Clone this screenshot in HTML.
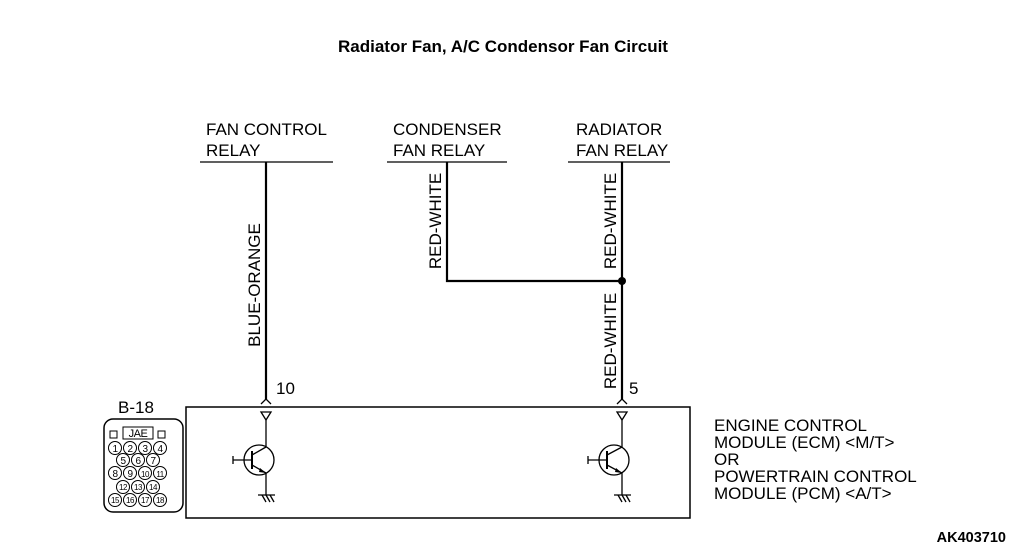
<!DOCTYPE html>
<html><head><style>body{margin:0;background:#fff}svg{display:block}text{font-family:"Liberation Sans",Arial,sans-serif;fill:#000}</style></head><body>
<svg width="1010" height="551" viewBox="0 0 1010 551" xmlns="http://www.w3.org/2000/svg">
<text x="503" y="52" font-size="17" font-weight="bold" text-anchor="middle">Radiator Fan, A/C Condensor Fan Circuit</text>
<g font-size="17">
<text x="206" y="135">FAN CONTROL</text><text x="206" y="156">RELAY</text>
<text x="393" y="135">CONDENSER</text><text x="393" y="156">FAN RELAY</text>
<text x="576" y="135">RADIATOR</text><text x="576" y="156">FAN RELAY</text>
</g>
<g stroke="#000" stroke-width="1.3" fill="none">
<line x1="200" y1="162" x2="333" y2="162"/><line x1="387" y1="162" x2="507" y2="162"/><line x1="568" y1="162" x2="670" y2="162"/>
</g>
<g stroke="#000" stroke-width="2.2" fill="none">
<line x1="266" y1="162" x2="266" y2="400"/>
<polyline points="447,162 447,281 622,281"/>
<line x1="622" y1="162" x2="622" y2="400"/>
</g>
<circle cx="622" cy="281" r="4" fill="#000"/>
<g font-size="17">
<text transform="translate(260,285) rotate(-90)" text-anchor="middle">BLUE-ORANGE</text>
<text transform="translate(441,221) rotate(-90)" text-anchor="middle">RED-WHITE</text>
<text transform="translate(616,221) rotate(-90)" text-anchor="middle">RED-WHITE</text>
<text transform="translate(616,341) rotate(-90)" text-anchor="middle">RED-WHITE</text>
<text x="276" y="394">10</text><text x="629" y="394">5</text>
</g>
<rect x="186" y="407" width="504" height="111" fill="none" stroke="#000" stroke-width="1.5"/>
<g stroke="#000" stroke-width="1.3" fill="none">
<polyline points="261,404 266,399 271,404"/><polyline points="617,404 622,399 627,404"/>
<polygon points="261,412 271,412 266,420"/><polygon points="617,412 627,412 622,420"/>
<line x1="266" y1="420" x2="266" y2="447"/><line x1="622" y1="420" x2="622" y2="447"/>
<circle cx="259" cy="460" r="15"/><circle cx="614" cy="460" r="15"/>
<line x1="233" y1="460" x2="252" y2="460"/><line x1="233" y1="456" x2="233" y2="464"/>
<line x1="252" y1="451" x2="252" y2="469" stroke-width="2"/>
<polyline points="252,455 266,447"/><polyline points="252,465 266,473 266,495"/>
<line x1="588" y1="460" x2="607" y2="460"/><line x1="588" y1="456" x2="588" y2="464"/>
<line x1="607" y1="451" x2="607" y2="469" stroke-width="2"/>
<polyline points="607,455 622,447"/><polyline points="607,465 622,473 622,495"/>
<line x1="258" y1="495" x2="275" y2="495"/><line x1="262" y1="495" x2="266" y2="502"/><line x1="266" y1="495" x2="270" y2="502"/><line x1="270" y1="495" x2="274" y2="502"/>
<line x1="614" y1="495" x2="631" y2="495"/><line x1="618" y1="495" x2="622" y2="502"/><line x1="622" y1="495" x2="626" y2="502"/><line x1="626" y1="495" x2="630" y2="502"/>
</g>
<polygon points="260,468 266,473 259,472" fill="#000"/><polygon points="616,468 622,473 615,472" fill="#000"/>
<g font-size="17">
<text x="714" y="431">ENGINE CONTROL</text>
<text x="714" y="448">MODULE (ECM) &lt;M/T&gt;</text>
<text x="714" y="465">OR</text>
<text x="714" y="482">POWERTRAIN CONTROL</text>
<text x="714" y="499">MODULE (PCM) &lt;A/T&gt;</text>
</g>
<text x="118" y="413" font-size="17">B-18</text>
<rect x="104" y="419" width="79" height="93" rx="9" fill="none" stroke="#000" stroke-width="1.5"/>
<g stroke="#000" stroke-width="1" fill="none">
<rect x="123" y="427" width="30" height="12"/><rect x="110" y="431" width="7" height="7"/><rect x="158" y="431" width="7" height="7"/>
</g>
<g font-size="10" text-anchor="middle" letter-spacing="-0.5">
<g stroke="#000" stroke-width="1" fill="#fff">
<circle cx="115" cy="448" r="6.5"/><circle cx="130" cy="448" r="6.5"/><circle cx="145" cy="448" r="6.5"/><circle cx="160" cy="448" r="6.5"/>
<circle cx="123" cy="460" r="6.5"/><circle cx="138" cy="460" r="6.5"/><circle cx="153" cy="460" r="6.5"/>
<circle cx="115" cy="473" r="6.5"/><circle cx="130" cy="473" r="6.5"/><circle cx="145" cy="473" r="6.5"/><circle cx="160" cy="473" r="6.5"/>
<circle cx="123" cy="487" r="6.5"/><circle cx="138" cy="487" r="6.5"/><circle cx="153" cy="487" r="6.5"/>
<circle cx="115" cy="500" r="6.5"/><circle cx="130" cy="500" r="6.5"/><circle cx="145" cy="500" r="6.5"/><circle cx="160" cy="500" r="6.5"/>
</g>
<text x="138" y="437" font-size="11">JAE</text>
<text x="115" y="452">1</text><text x="130" y="452">2</text><text x="145" y="452">3</text><text x="160" y="452">4</text>
<text x="123" y="464">5</text><text x="138" y="464">6</text><text x="153" y="464">7</text>
<text x="115" y="477">8</text><text x="130" y="477">9</text><text x="145" y="477" font-size="8">10</text><text x="160" y="477" font-size="8">11</text>
<text x="123" y="490" font-size="8">12</text><text x="138" y="490" font-size="8">13</text><text x="153" y="490" font-size="8">14</text>
<text x="115" y="503" font-size="8">15</text><text x="130" y="503" font-size="8">16</text><text x="145" y="503" font-size="8">17</text><text x="160" y="503" font-size="8">18</text>
</g>
<text x="1006" y="542" font-size="14.5" font-weight="bold" text-anchor="end">AK403710</text>
</svg>
</body></html>
